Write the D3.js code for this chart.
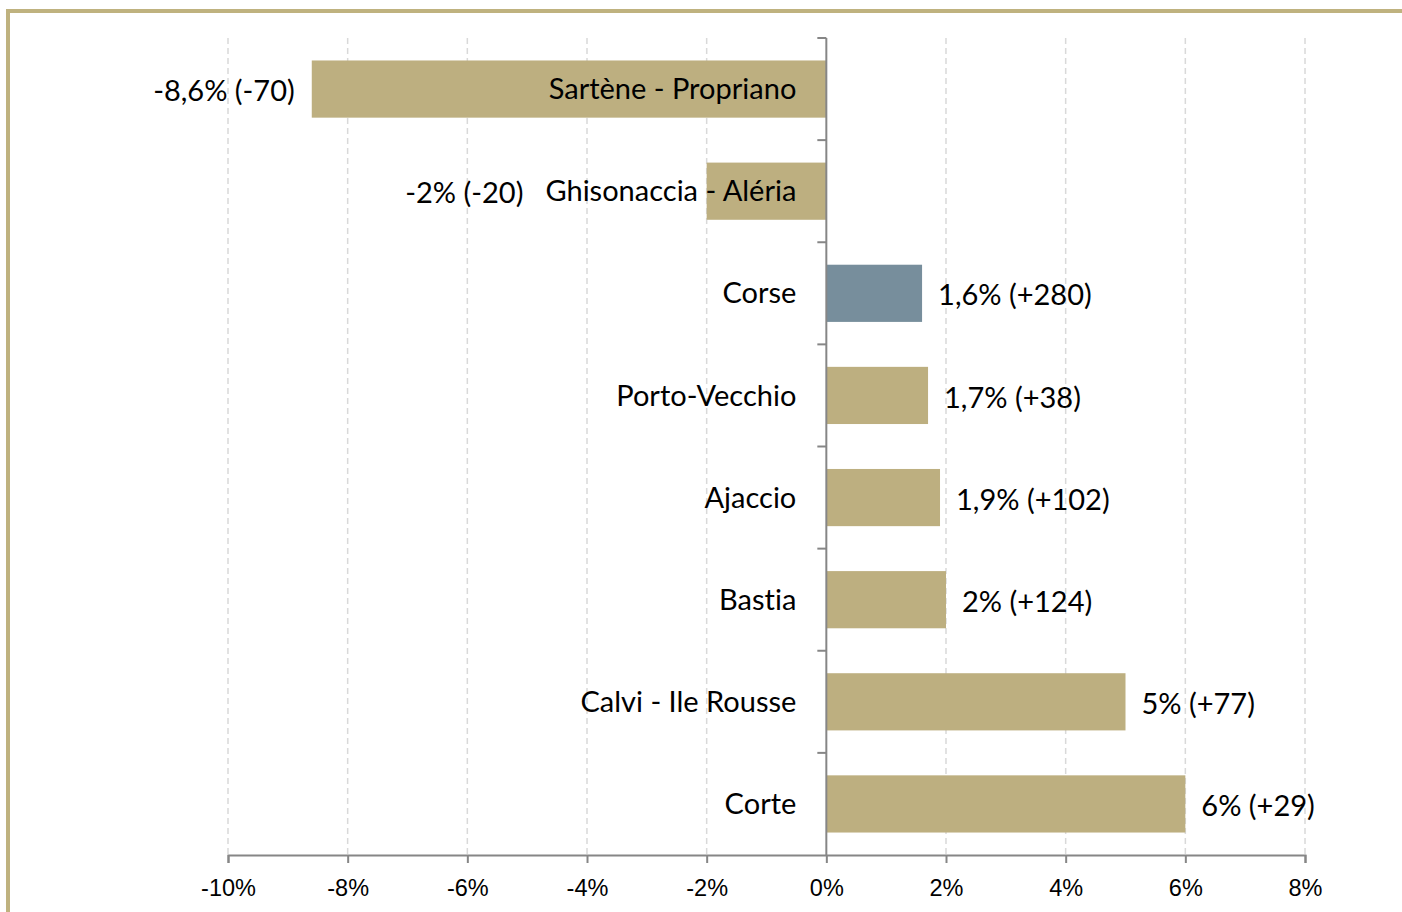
<!doctype html>
<html lang="en">
<head>
  <meta charset="utf-8">
  <title>Évolution</title>
  <style>
  body { margin: 0; background: #fff; }
  svg { display: block; font-family: Lato, "Open Sans", sans-serif; font-variant-ligatures: none; }
  .grid line { stroke: #d9d9d9; stroke-width: 1.5; stroke-dasharray: 6,4; }
  .axis path, .axis line { stroke: #868686; stroke-width: 2; }
  .axis text { font-size: 23.5px; fill: #000; }
  .cat { font-size: 29px; fill: #000; }
  .val { font-size: 29px; fill: #000; }
  </style>
</head>
<body>
  <div id="chart"></div>
  <script src="https://cdn.jsdelivr.net/npm/d3@7"></script>
  <script>
    (function() {

      var width = 1402,
          height = 912;

      // categories top to bottom
      var categories = ['Sartène - Propriano', 'Ghisonaccia - Aléria', 'Corse', 'Porto-Vecchio',
                        'Ajaccio', 'Bastia', 'Calvi - Ile Rousse', 'Corte'];
      var values = [-8.6, -2, 1.6, 1.7, 1.9, 2, 5, 6];
      var labels = ['-8,6% (-70)', '-2% (-20)', '1,6% (+280)', '1,7% (+38)',
                    '1,9% (+102)', '2% (+124)', '5% (+77)', '6% (+29)'];
      var xTicks = [-10, -8, -6, -4, -2, 0, 2, 4, 6, 8];

      var x = d3.scaleLinear().domain([-10, 8]).range([228, 1305]);
      var y = d3.scaleBand().domain(categories).range([38, 855]).paddingInner(0.44).paddingOuter(0.22);
      var yb = d3.scaleBand().domain(categories).range([38, 855]);

      var svg = d3.select('#chart').append('svg')
          .attr('width', width)
          .attr('height', height);

      // frame
      svg.append('line').attr('x1', 6).attr('x2', width).attr('y1', 11).attr('y2', 11)
        .attr('stroke', '#bfb27f').attr('stroke-width', 4);
      svg.append('line').attr('x1', 8).attr('x2', 8).attr('y1', 9).attr('y2', height)
        .attr('stroke', '#bfb27f').attr('stroke-width', 4);

      // gridlines
      svg.append('g').attr('class', 'grid')
        .selectAll('line').data(xTicks.filter(function(d) { return d !== 0; }))
        .enter().append('line')
        .attr('x1', function(d) { return x(d); })
        .attr('x2', function(d) { return x(d); })
        .attr('y1', 38).attr('y2', 855);

      // bars
      svg.append('g').selectAll('rect').data(values)
        .enter().append('rect')
        .attr('x', function(d) { return x(Math.min(0, d)); })
        .attr('width', function(d) { return Math.abs(x(d) - x(0)); })
        .attr('y', function(d, i) { return y(categories[i]); })
        .attr('height', y.bandwidth())
        .attr('fill', function(d, i) { return categories[i] === 'Corse' ? '#778e9c' : '#bdaf80'; });

      // x axis
      svg.append('g').attr('class', 'axis')
        .attr('transform', 'translate(0,855)')
        .call(d3.axisBottom(x).tickValues(xTicks).tickSizeOuter(0).tickSize(8).tickPadding(16)
          .tickFormat(function(d) { return d + '%'; }));

      // y axis at zero
      var yAxis = svg.append('g').attr('class', 'axis');
      yAxis.append('line').attr('x1', x(0)).attr('x2', x(0)).attr('y1', 38).attr('y2', 855);
      yAxis.selectAll('.tk').data(categories.slice(1))
        .enter().append('line')
        .attr('x1', x(0) - 9).attr('x2', x(0))
        .attr('y1', function(d) { return yb(d); })
        .attr('y2', function(d) { return yb(d); });
      yAxis.append('line').attr('x1', x(0) - 9).attr('x2', x(0)).attr('y1', 38).attr('y2', 38);

      // category labels
      var catText = svg.append('g').selectAll('text').data(categories)
        .enter().append('text')
        .attr('class', 'cat')
        .attr('x', x(0) - 30)
        .attr('y', function(d) { return y(d) + y.bandwidth() / 2; })
        .attr('dy', '0.35em')
        .attr('text-anchor', 'end')
        .text(function(d) { return d; });

      var catLeft = [];
      catText.each(function() { catLeft.push(x(0) - 30 - this.getComputedTextLength()); });

      // value labels (negative ones pushed left of the category name if they would collide)
      svg.append('g').selectAll('text').data(values)
        .enter().append('text')
        .attr('class', 'val')
        .attr('x', function(d, i) {
          if (d >= 0) return x(d) + 16;
          return Math.min(x(d) - 17, catLeft[i] - 22);
        })
        .attr('y', function(d, i) { return y(categories[i]) + y.bandwidth() / 2 + 2; })
        .attr('dy', '0.35em')
        .attr('text-anchor', function(d) { return d < 0 ? 'end' : 'start'; })
        .text(function(d, i) { return labels[i]; });

    })();
  </script>
</body>
</html>
